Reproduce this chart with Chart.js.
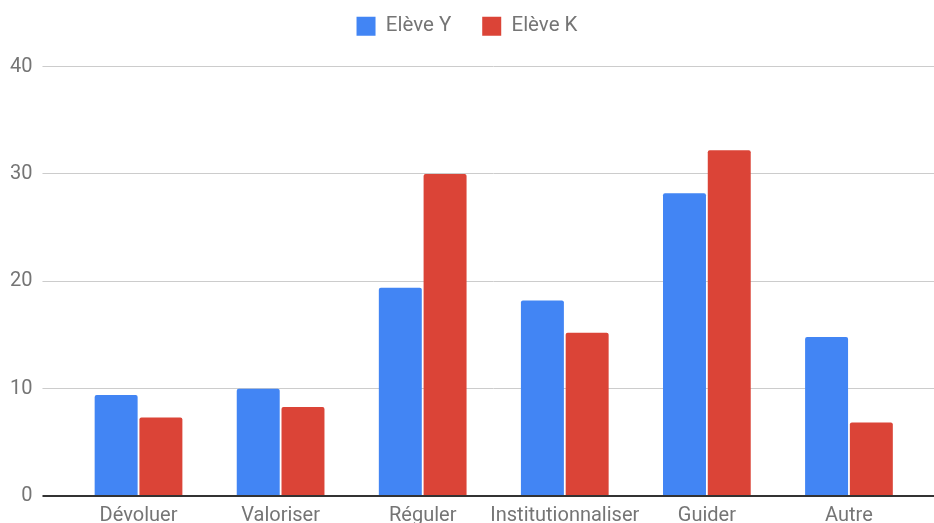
<!DOCTYPE html>
<html><head><meta charset="utf-8">
<script src="https://cdn.jsdelivr.net/npm/chart.js@4"></script>
<style>html,body{margin:0;padding:0;overflow:hidden;background:#fff}</style>
</head>
<body>
<canvas id="c" width="934" height="536"></canvas>
<script>
const categories = ["Dévoluer", "Valoriser", "Réguler", "Institutionnaliser", "Guider", "Autre"];
const seriesNames = ["Elève Y", "Elève K"];
const eleveY = [9.4, 10.0, 19.4, 18.2, 28.2, 14.8];
const eleveK = [7.3, 8.3, 30.0, 15.2, 32.2, 6.85];
const yMin = 0, yMax = 40, yStep = 10;

const textColor = '#757575';
const gridColor = (ctx) => (ctx.tick && ctx.tick.value === 0) ? '#333333' : '#cccccc';
const gridWidth = (ctx) => (ctx.tick && ctx.tick.value === 0) ? 2 : 1;

const legendGap = {
  id: 'legendGap',
  beforeInit(chart) {
    const lg = chart.legend;
    if (!lg) return;
    const fit = lg.fit;
    lg.fit = function () { fit.call(this); this.height += 20; };
  }
};

new Chart(document.getElementById('c'), {
  type: 'bar',
  data: {
    labels: categories,
    datasets: [
      { label: seriesNames[0], data: eleveY, backgroundColor: '#4285F4', borderRadius: 2, categoryPercentage: 0.63, barPercentage: 0.96 },
      { label: seriesNames[1], data: eleveK, backgroundColor: '#DB4437', borderRadius: 2, categoryPercentage: 0.63, barPercentage: 0.96 }
    ]
  },
  plugins: [legendGap],
  options: {
    responsive: false,
    devicePixelRatio: 1,
    animation: false,
    layout: { padding: { left: 0, right: 0, top: -15, bottom: 0 } },
    font: { family: 'Roboto', size: 20 },
    plugins: {
      legend: {
        position: 'top',
        labels: { boxWidth: 19, boxHeight: 19, padding: 31, color: textColor, font: { family: 'Roboto', size: 20.5 } }
      },
      tooltip: { enabled: false }
    },
    scales: {
      x: {
        grid: { display: false, drawTicks: false },
        border: { display: false },
        ticks: { color: textColor, padding: 8, maxRotation: 0, autoSkip: false, font: { family: 'Roboto', size: 20 } }
      },
      y: {
        position: 'left',
        min: yMin, max: yMax,
        ticks: { stepSize: yStep, color: textColor, padding: 10, font: { family: 'Roboto', size: 20 } },
        grid: { color: gridColor, tickColor: gridColor, lineWidth: gridWidth, tickLength: 25 },
        border: { display: false }
      },
      y2: {
        position: 'right',
        min: yMin, max: yMax,
        ticks: { stepSize: yStep, display: false },
        grid: { color: gridColor, tickColor: gridColor, lineWidth: gridWidth, tickLength: 14, drawOnChartArea: false },
        border: { display: false }
      }
    }
  }
});
</script>
</body></html>
